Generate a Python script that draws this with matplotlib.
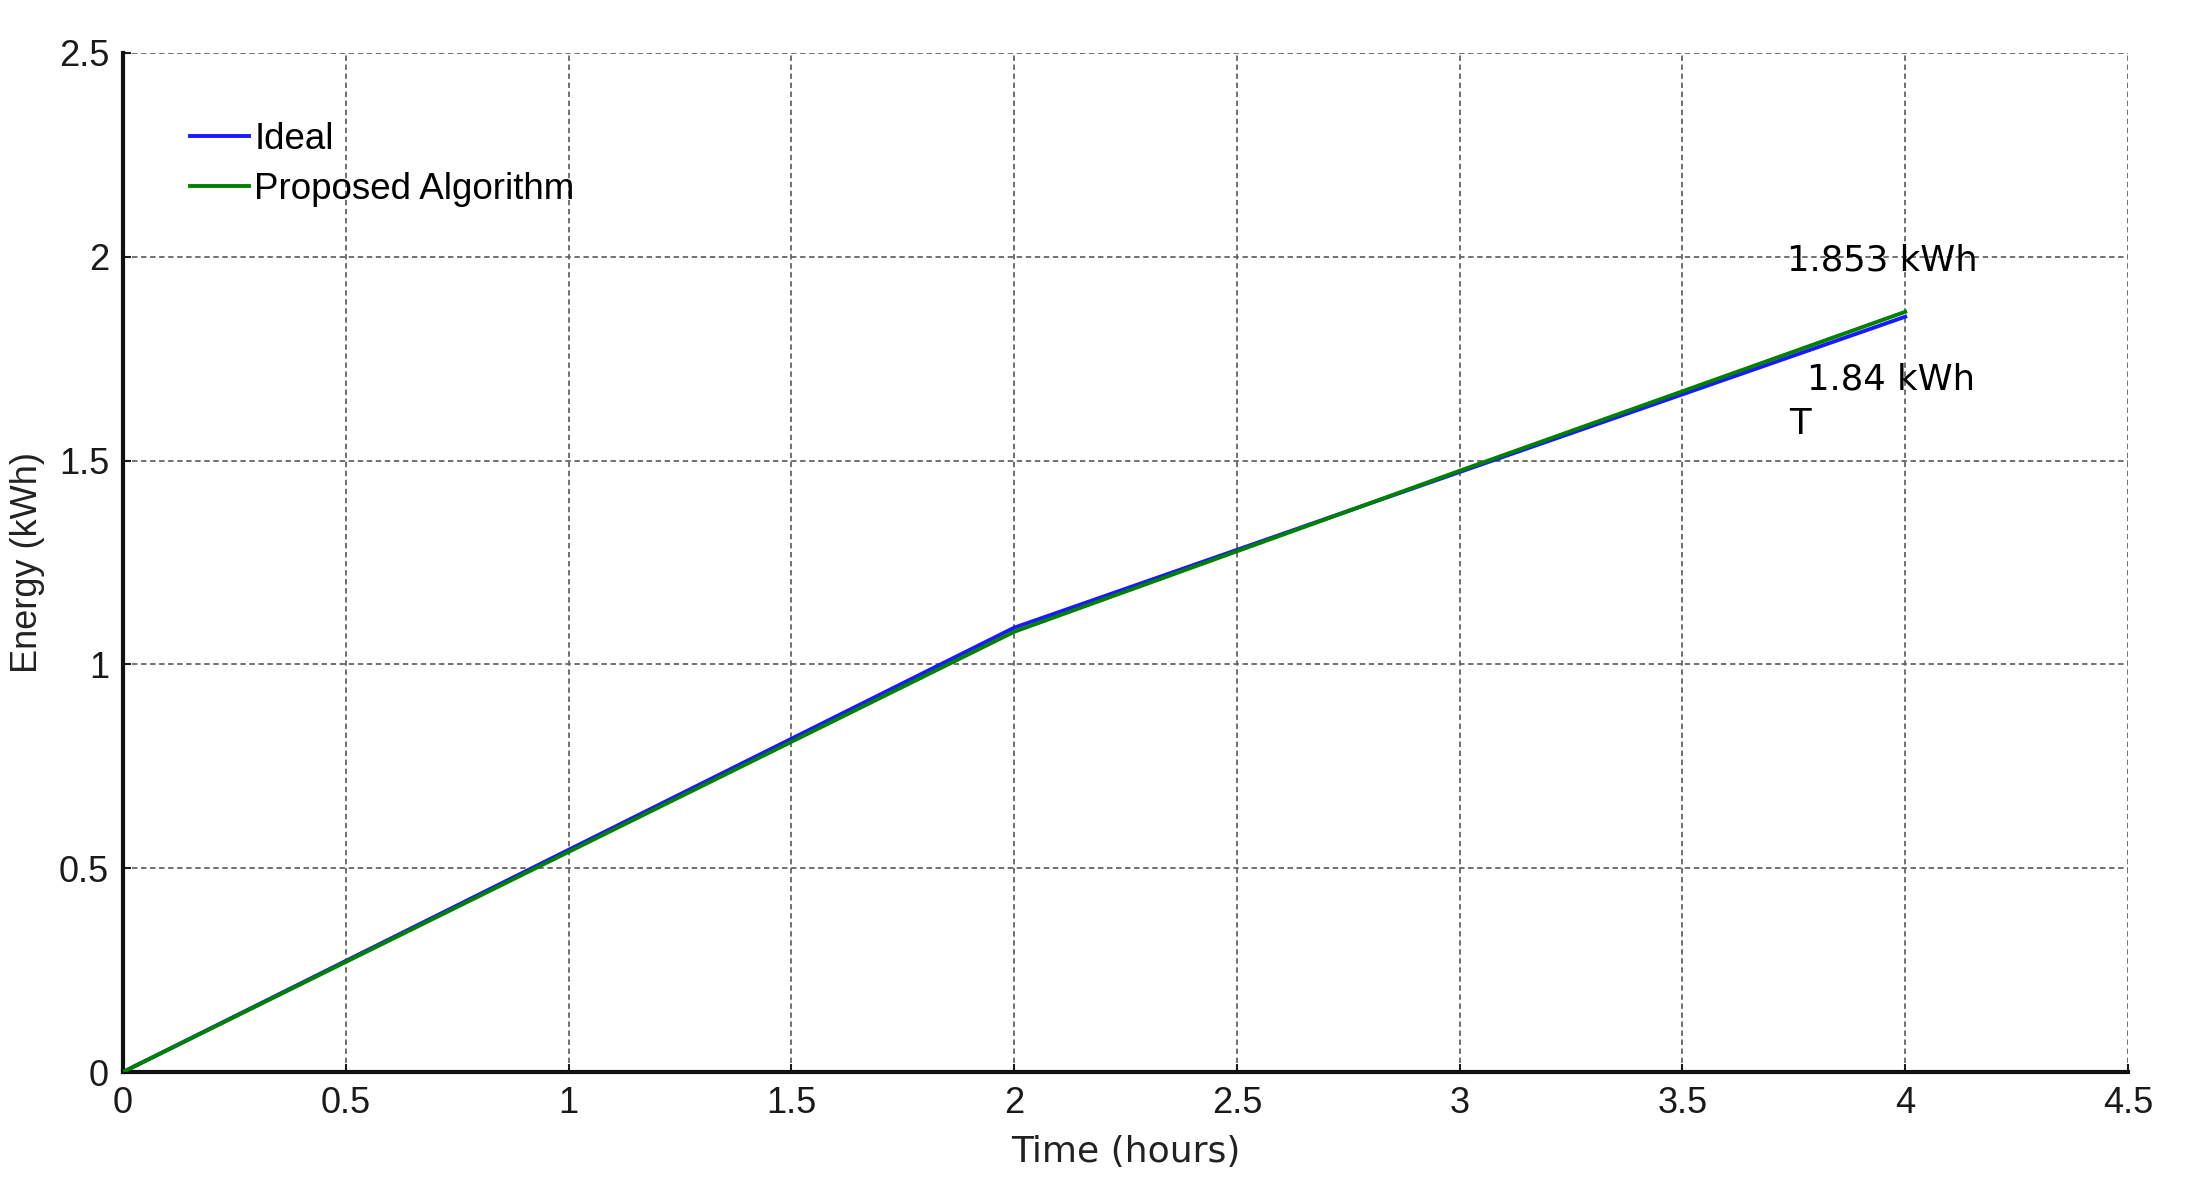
import matplotlib.pyplot as plt
import numpy as np

# 数据
time_h = [0, 1, 2, 3, 4]
ideal_kwh = [0, 0.545, 1.09, 1.472, 1.853]
proposed_kwh = [0, 0.54, 1.08, 1.475, 1.865]

xticks = [0, 0.5, 1, 1.5, 2, 2.5, 3, 3.5, 4, 4.5]
yticks = [0, 0.5, 1, 1.5, 2, 2.5]

plt.rcParams['font.family'] = ['Liberation Sans', 'DejaVu Sans']

fig = plt.figure(figsize=(21.85, 11.87), dpi=100)
ax = fig.add_axes([123 / 2185, 1 - 1072 / 1187, (2128 - 123) / 2185, (1072 - 53) / 1187])

ax.plot(time_h, ideal_kwh, color="#1a1aff", linewidth=2.8, label="Ideal", zorder=3)
ax.plot(time_h, proposed_kwh, color="#008000", linewidth=2.8, label="Proposed Algorithm", zorder=4)

ax.set_xlim(0, 4.5)
ax.set_ylim(0, 2.5)
ax.set_xticks(xticks)
ax.set_yticks(yticks)
ax.set_xticklabels([f"{v:g}" for v in xticks])
ax.set_yticklabels([f"{v:g}" for v in yticks])
ax.tick_params(direction="in", length=6, width=1.5, labelsize=26, colors="#1a1a1a", pad=10)

ax.grid(True, linestyle=(0, (3, 2)), color="#666666", linewidth=1.3)
for s in ("top", "right"):
    ax.spines[s].set_visible(False)
for s in ("left", "bottom"):
    ax.spines[s].set_linewidth(3)
    ax.spines[s].set_color("#111111")

ax.set_xlabel("Time (hours)", fontsize=26, family="DejaVu Sans", color="#222222", labelpad=10)
ax.set_ylabel("Energy (kWh)", fontsize=26, color="#222222", labelpad=10)

ax.legend(loc="upper left", bbox_to_anchor=(0.026, 0.947), frameon=False, fontsize=26.5,
          handlelength=1.6, handletextpad=0.15, labelspacing=0.42, borderaxespad=0)

# 标注
ax.text(3.735, 1.99, "1.853 kWh", fontsize=25.5, family="DejaVu Sans", va="center", ha="left")
ax.text(3.78, 1.70, "1.84 kWh", fontsize=25.5, family="DejaVu Sans", va="center", ha="left")
ax.text(3.74, 1.59, "T", fontsize=25.5, family="DejaVu Sans", va="center", ha="left")

fig.savefig("out.png", dpi=100)
